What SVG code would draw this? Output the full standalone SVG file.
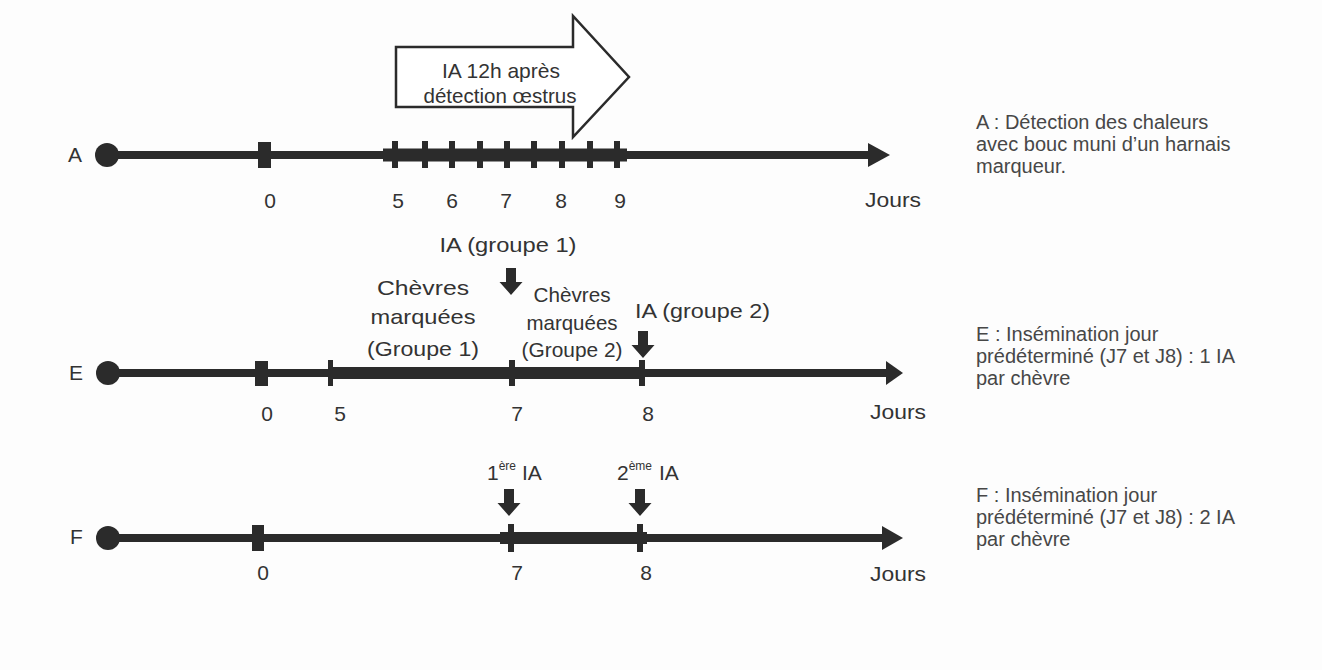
<svg xmlns="http://www.w3.org/2000/svg" width="1322" height="670" viewBox="0 0 1322 670">
<style>
.ln{stroke:#2b2b2b;stroke-width:8;fill:none}
.blk{fill:#2b2b2b}
.t{font-family:"Liberation Sans",Arial,sans-serif;fill:#333;font-size:21px}
.c{text-anchor:middle}
.d{font-family:"Liberation Sans",Arial,sans-serif;fill:#474747;font-size:20px}
.sup{font-size:12px}
</style>
<defs>
<path id="dn" d="M-5,0 H5 V14 H11.5 L0,27 L-11.5,14 H-5 Z"/>
</defs>
<rect width="1322" height="670" fill="#fdfdfd"/>

<g id="timelineA">
<line class="ln" x1="107" y1="155" x2="872" y2="155"/>
<rect class="blk" x="383" y="148.5" width="244" height="13"/>
<circle class="blk" cx="107" cy="155" r="12"/>
<rect class="blk" x="258" y="142" width="13" height="26"/>
<g class="blk">
<rect x="392" y="141" width="6" height="27"/><rect x="422" y="141" width="6" height="27"/><rect x="449" y="141" width="6" height="27"/><rect x="477" y="141" width="6" height="27"/><rect x="504" y="141" width="6" height="27"/><rect x="531" y="141" width="6" height="27"/><rect x="559" y="141" width="6" height="27"/><rect x="587" y="141" width="6" height="27"/><rect x="614" y="141" width="6" height="27"/>
</g>
<polygon class="blk" points="868,143 890,155 868,167"/>
<text class="t" x="68" y="162" font-size="20">A</text>
<g class="t c"><text x="270" y="208">0</text><text x="398" y="208">5</text><text x="452" y="208">6</text><text x="506" y="208">7</text><text x="561" y="208">8</text><text x="620" y="208">9</text></g>
<text class="t" x="865" y="207" textLength="56" lengthAdjust="spacingAndGlyphs">Jours</text>
</g>

<g id="bigArrow">
<polygon points="396,47 573,47 573,16 629,77 573,137 573,107 396,107" fill="#fff" stroke="#2b2b2b" stroke-width="2.5"/>
<text class="t c" x="501" y="78" textLength="118" lengthAdjust="spacingAndGlyphs">IA 12h après</text>
<text class="t c" x="500" y="103" textLength="153" lengthAdjust="spacingAndGlyphs">détection œstrus</text>
</g>

<g id="timelineE">
<line class="ln" x1="108" y1="373" x2="890" y2="373"/>
<rect class="blk" x="330" y="367" width="315" height="12"/>
<circle class="blk" cx="108" cy="373" r="12"/>
<rect class="blk" x="255" y="361" width="13" height="25"/>
<rect class="blk" x="328" y="360" width="5" height="26"/>
<rect class="blk" x="509" y="360" width="6" height="26"/>
<rect class="blk" x="639" y="360" width="6" height="26"/>
<polygon class="blk" points="886,361 903,373 886,385"/>
<text class="t" x="69" y="380" font-size="19">E</text>
<g class="t c"><text x="267" y="421">0</text><text x="340" y="421">5</text><text x="517" y="421">7</text><text x="648" y="421">8</text></g>
<text class="t" x="870" y="419" textLength="56" lengthAdjust="spacingAndGlyphs">Jours</text>
</g>

<g id="labelsE">
<text class="t c" x="508" y="252" textLength="137" lengthAdjust="spacingAndGlyphs">IA (groupe 1)</text>
<use href="#dn" class="blk" x="511" y="268"/>
<text class="t c" x="423" y="295" textLength="92" lengthAdjust="spacingAndGlyphs">Chèvres</text>
<text class="t c" x="423" y="324" textLength="105" lengthAdjust="spacingAndGlyphs">marquées</text>
<text class="t c" x="423" y="356" textLength="112" lengthAdjust="spacingAndGlyphs">(Groupe 1)</text>
<text class="t c" x="572" y="302" font-size="19" textLength="77" lengthAdjust="spacingAndGlyphs">Chèvres</text>
<text class="t c" x="572" y="330" font-size="19" textLength="91" lengthAdjust="spacingAndGlyphs">marquées</text>
<text class="t c" x="572" y="357" font-size="19" textLength="101" lengthAdjust="spacingAndGlyphs">(Groupe 2)</text>
<text class="t" x="635" y="318" textLength="135" lengthAdjust="spacingAndGlyphs">IA (groupe 2)</text>
<use href="#dn" class="blk" x="643" y="331"/>
</g>

<g id="timelineF">
<line class="ln" x1="108" y1="538" x2="885" y2="538"/>
<rect class="blk" x="500" y="532" width="147" height="12"/>
<circle class="blk" cx="108" cy="538" r="12"/>
<rect class="blk" x="252" y="525" width="12" height="26"/>
<rect class="blk" x="508" y="524" width="6" height="28"/>
<rect class="blk" x="637" y="524" width="6" height="28"/>
<polygon class="blk" points="882,526 903,538 882,550"/>
<text class="t" x="70" y="544" font-size="19">F</text>
<g class="t c"><text x="263" y="580">0</text><text x="517" y="580">7</text><text x="646" y="580">8</text></g>
<text class="t" x="870" y="581" textLength="56" lengthAdjust="spacingAndGlyphs">Jours</text>
</g>

<g id="labelsF">
<text class="t" x="487" y="480">1<tspan class="sup" dy="-10">ère</tspan><tspan dy="10" dx="6">IA</tspan></text>
<use href="#dn" class="blk" x="509" y="489"/>
<text class="t" x="617" y="480">2<tspan class="sup" dy="-10">ème</tspan><tspan dy="10" dx="7">IA</tspan></text>
<use href="#dn" class="blk" x="640" y="489"/>
</g>

<g id="descriptions">
<text class="d" x="976" y="129">A : Détection des chaleurs</text>
<text class="d" x="976" y="151">avec bouc muni d’un harnais</text>
<text class="d" x="976" y="173">marqueur.</text>
<text class="d" x="976" y="341">E : Insémination jour</text>
<text class="d" x="976" y="363">prédéterminé (J7 et J8) : 1 IA</text>
<text class="d" x="976" y="385">par chèvre</text>
<text class="d" x="976" y="502">F : Insémination jour</text>
<text class="d" x="976" y="524">prédéterminé (J7 et J8) : 2 IA</text>
<text class="d" x="976" y="546">par chèvre</text>
</g>
</svg>
